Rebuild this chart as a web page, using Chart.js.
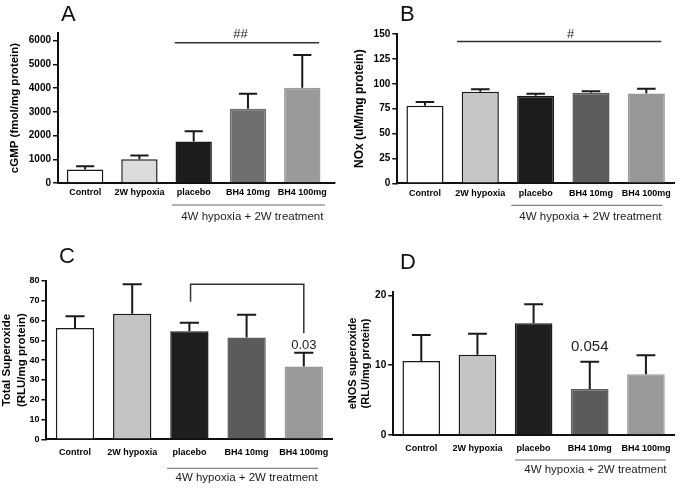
<!DOCTYPE html>
<html>
<head>
<meta charset="utf-8">
<script src="https://cdn.jsdelivr.net/npm/chart.js@4.4.0/dist/chart.umd.min.js"></script>
<style>
  body { margin: 0; background: #fff; width: 680px; height: 489px; position: relative; overflow: hidden; }
  .panel { position: absolute; }
</style>
</head>
<body>
<div class="panel" style="left:0;top:0"><canvas id="chartA" width="340" height="240"></canvas></div>
<div class="panel" style="left:340px;top:0"><canvas id="chartB" width="340" height="240"></canvas></div>
<div class="panel" style="left:0;top:240px"><canvas id="chartC" width="340" height="249"></canvas></div>
<div class="panel" style="left:340px;top:240px"><canvas id="chartD" width="340" height="249"></canvas></div>
<script>
// groups shared by all four panels
var groups = ["Control", "2W hypoxia", "placebo", "BH4 10mg", "BH4 100mg"];
var treatmentLabel = "4W hypoxia + 2W treatment";

// A - cGMP
var cgmpMean = [566, 1000, 1750, 3130, 4015];
var cgmpSem = [140, 157, 435, 630, 1380];
var cgmpTicks = [0, 1000, 2000, 3000, 4000, 5000, 6000];

// B - NOx
var noxMean = [78, 91.9, 87.9, 90.9, 90.2];
var noxSem = [3.8, 2.6, 2.0, 1.6, 4.8];
var noxTicks = [0, 25, 50, 75, 100, 125, 150];

// C - total superoxide
var totalSupMean = [56.3, 63.4, 54.6, 51.4, 36.8];
var totalSupSem = [5.9, 14.9, 4.3, 11.5, 7.0];
var totalSupTicks = [0, 10, 20, 30, 40, 50, 60, 70, 80];

// D - eNOS superoxide
var enosSupMean = [10.6, 11.5, 16.0, 6.6, 8.7];
var enosSupSem = [3.7, 3.0, 2.7, 3.9, 2.7];
var enosSupTicks = [0, 10, 20];

var FONT = "'Liberation Sans', Arial, Helvetica, sans-serif";
Chart.defaults.font.family = FONT;

// error bars, annotation lines, group bracket and panel letter
Chart.register({
  id: 'extras',
  afterDraw: function(chart, args, o) {
    var ctx = chart.ctx, x = chart.scales.x, y = chart.scales.y, a = chart.chartArea;
    var step = x.getPixelForValue(1) - x.getPixelForValue(0);
    var px = function(i) { return x.getPixelForValue(0) + i * step; };
    ctx.save();

    // error bars (upper only)
    var meta = chart.getDatasetMeta(0);
    var vals = chart.data.datasets[0].data;
    ctx.strokeStyle = '#1a1a1a';
    ctx.lineWidth = 2;
    meta.data.forEach(function(bar, i) {
      var top = y.getPixelForValue(vals[i] + o.err[i]);
      var w = bar.width * 0.5;
      ctx.beginPath();
      ctx.moveTo(bar.x, bar.y);
      ctx.lineTo(bar.x, top);
      ctx.moveTo(bar.x - w / 2, top);
      ctx.lineTo(bar.x + w / 2, top);
      ctx.stroke();
    });

    // extend x axis line past the last bar
    if (o.xExtend) {
      ctx.beginPath();
      ctx.lineWidth = 2;
      ctx.strokeStyle = '#111';
      ctx.moveTo(a.right - 1, a.bottom);
      ctx.lineTo(a.right + o.xExtend, a.bottom);
      ctx.stroke();
    }

    // significance lines and labels
    (o.marks || []).forEach(function(m) {
      if (m.points) {
        ctx.beginPath();
        ctx.lineWidth = 1.5;
        ctx.strokeStyle = '#333';
        m.points.forEach(function(p, k) {
          var X = px(p[0]), Y = y.getPixelForValue(p[1]);
          if (k === 0) ctx.moveTo(X, Y); else ctx.lineTo(X, Y);
        });
        ctx.stroke();
      }
      if (m.text) {
        ctx.fillStyle = '#222';
        ctx.font = m.size + 'px ' + FONT;
        ctx.textAlign = 'center';
        ctx.textBaseline = m.baseline || 'middle';
        ctx.fillText(m.text, px(m.at[0]), y.getPixelForValue(m.at[1]));
      }
    });

    // treatment group bracket under the axis
    var g = o.group;
    ctx.beginPath();
    ctx.lineWidth = 1;
    ctx.strokeStyle = '#666';
    ctx.moveTo(px(g.from), a.bottom + g.dy);
    ctx.lineTo(px(g.to), a.bottom + g.dy);
    ctx.stroke();
    ctx.fillStyle = '#222';
    ctx.font = '11.5px ' + FONT;
    ctx.textAlign = 'center';
    ctx.textBaseline = 'middle';
    ctx.fillText(treatmentLabel, px(g.mid), a.bottom + g.textDy);

    // panel letter
    ctx.font = '22px ' + FONT;
    ctx.fillStyle = '#111';
    ctx.textAlign = 'left';
    ctx.textBaseline = 'alphabetic';
    ctx.fillText(o.letter[0], o.letter[1], o.letter[2]);
    ctx.restore();
  }
});

function makePanel(id, p) {
  var borders = p.fill.map(function(c, i) { return i < 3 ? '#1a1a1a' : c; });
  return new Chart(document.getElementById(id), {
    type: 'bar',
    data: {
      labels: groups,
      datasets: [{
        data: p.mean,
        backgroundColor: p.fill,
        borderColor: borders,
        borderWidth: 1.5,
        barPercentage: 0.67,
        categoryPercentage: 1
      }]
    },
    options: {
      responsive: false,
      animation: false,
      events: [],
      layout: { padding: p.pad },
      plugins: {
        legend: { display: false },
        tooltip: { enabled: false },
        extras: {
          err: p.err, marks: p.marks, group: p.group,
          letter: p.letter, xExtend: p.xExtend || 0
        }
      },
      scales: {
        x: {
          grid: { display: false, drawTicks: false },
          border: { display: true, color: '#111', width: 2 },
          ticks: {
            color: '#000', autoSkip: false, maxRotation: 0, padding: p.xPad,
            font: { size: 9, weight: 'bold' }
          },
          afterFit: function(s) { s.height = p.xH; }
        },
        y: {
          min: 0,
          max: p.max,
          afterBuildTicks: function(s) {
            s.ticks = p.ticks.map(function(v) { return { value: v }; });
          },
          afterFit: function(s) { s.width = p.yW; },
          border: { display: true, color: '#111', width: 2 },
          grid: {
            display: true, drawOnChartArea: false, drawTicks: true,
            tickLength: 5, color: '#111', lineWidth: 1.5
          },
          ticks: {
            color: '#000', padding: 2,
            font: { size: p.tickSize, weight: 'bold' },
            callback: function(v) { return String(v); }
          },
          title: {
            display: true, text: p.title, color: '#000', padding: 0,
            font: { size: p.titleSize, weight: 'bold', lineHeight: p.titleLH }
          }
        }
      }
    }
  });
}

makePanel('chartA', {
  mean: cgmpMean, err: cgmpSem, ticks: cgmpTicks, max: 6325,
  fill: ['#ffffff', '#dcdcdc', '#1c1c1c', '#6e6e6e', '#9a9a9a'],
  pad: { left: 8, right: 10.6, top: 33, bottom: 37 }, yW: 50, xH: 20, xPad: 4,
  tickSize: 10, title: 'cGMP (fmol/mg protein)', titleSize: 11.5, titleLH: 1.2,
  xExtend: 6,
  marks: [
    { points: [[1.65, 5916], [4.31, 5916]] },
    { text: '##', at: [2.86, 6120], size: 13, baseline: 'alphabetic' }
  ],
  group: { from: 1.6, to: 4.42, mid: 3.08, dy: 22, textDy: 34 },
  letter: ['A', 61, 21]
});

makePanel('chartB', {
  mean: noxMean, err: noxSem, ticks: noxTicks, max: 150,
  fill: ['#ffffff', '#c6c6c6', '#1c1c1c', '#5c5c5c', '#979797'],
  pad: { left: 12, right: 6, top: 34, bottom: 36.7 }, yW: 45.3, xH: 20, xPad: 4.6,
  tickSize: 10, title: 'NOx (uM/mg protein)', titleSize: 12, titleLH: 1.2,
  marks: [
    { points: [[0.58, 142.4], [4.27, 142.4]] },
    { text: '#', at: [2.63, 146], size: 13, baseline: 'alphabetic' }
  ],
  group: { from: 1.56, to: 4.29, mid: 2.99, dy: 22, textDy: 34 },
  letter: ['B', 60, 21]
});

makePanel('chartC', {
  mean: totalSupMean, err: totalSupSem, ticks: totalSupTicks, max: 80,
  fill: ['#ffffff', '#c4c4c4', '#1e1e1e', '#5b5b5b', '#999999'],
  pad: { left: 0, right: 7.6, top: 41, bottom: 29.7 }, yW: 46.4, xH: 20, xPad: 8.3,
  tickSize: 9, title: ['Total Superoxide', '(RLU/mg protein)'], titleSize: 11.5, titleLH: 1.25,
  marks: [
    { points: [[2.02, 69.5], [2.02, 78.3], [4, 78.3], [4, 53.6]] },
    { text: '0.03', at: [4, 47.6], size: 13 }
  ],
  group: { from: 1.61, to: 4.25, mid: 3.0, dy: 29, textDy: 39 },
  letter: ['C', 59, 23]
});

makePanel('chartD', {
  mean: enosSupMean, err: enosSupSem, ticks: enosSupTicks, max: 20.47,
  fill: ['#ffffff', '#c4c4c4', '#1e1e1e', '#5b5b5b', '#999999'],
  pad: { left: 6, right: 6, top: 52, bottom: 32 }, yW: 47.2, xH: 22, xPad: 7.9,
  tickSize: 10, title: ['eNOS superoxide', '(RLU/mg protein)'], titleSize: 11, titleLH: 1.18,
  marks: [
    { text: '0.054', at: [3, 12.55], size: 15 }
  ],
  group: { from: 1.67, to: 4.35, mid: 3.1, dy: 25, textDy: 35 },
  letter: ['D', 60, 29]
});
</script>
</body>
</html>
